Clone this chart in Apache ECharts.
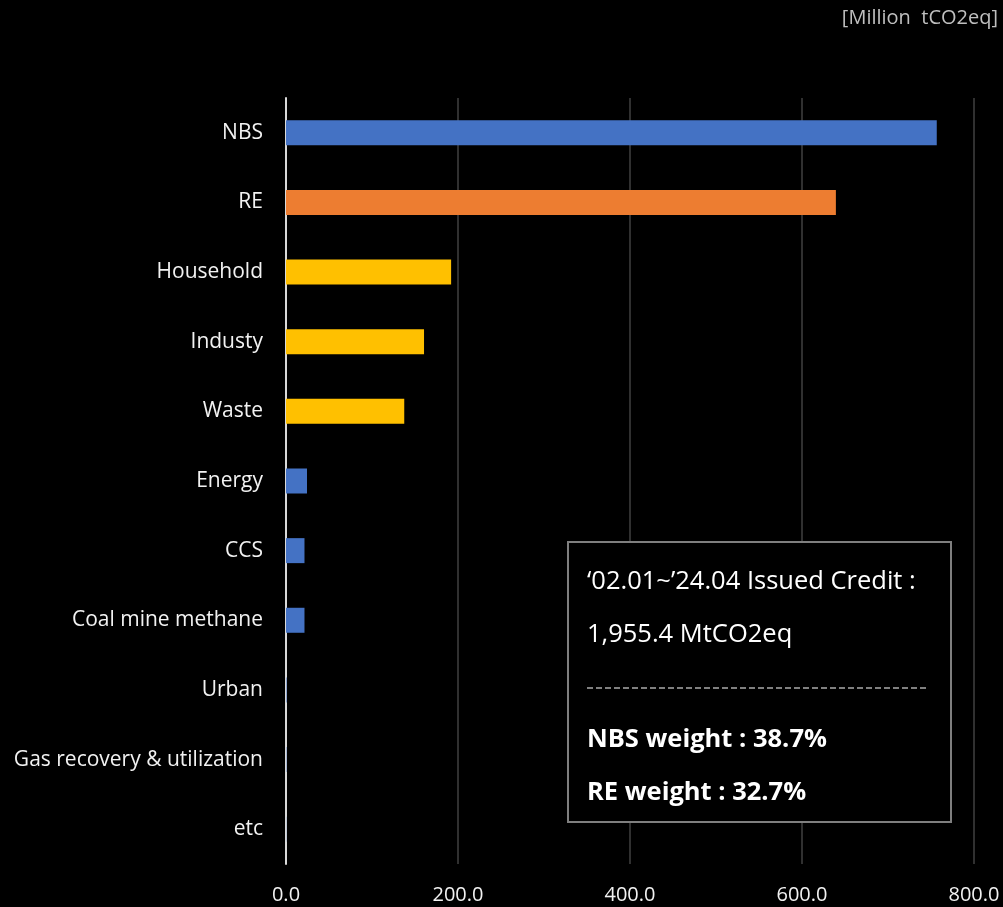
<!DOCTYPE html>
<html>
<head>
<meta charset="utf-8">
<style>
  html, body { margin: 0; padding: 0; background: #000; }
  #chart { width: 1003px; height: 907px; }
</style>
<script src="https://cdn.jsdelivr.net/npm/echarts@6/dist/echarts.min.js"></script>
</head>
<body>
<div id="chart"></div>
<script>
  // categories top to bottom
  var categories = ['NBS', 'RE', 'Household', 'Industy', 'Waste', 'Energy', 'CCS',
    'Coal mine methane', 'Urban', 'Gas recovery & utilization', 'etc'];
  var values = [756.7, 639.4, 192.0, 160.5, 137.5, 24.4, 21.5, 21.5, 0.6, 0.4, 0.2];
  var barColors = ['#4472C4', '#ED7D31', '#FFC000', '#FFC000', '#FFC000',
    '#4472C4', '#4472C4', '#4472C4', '#4472C4', '#4472C4', '#4472C4'];
  var xTicks = [0, 200, 400, 600, 800];

  var font = '"Open Sans", "Noto Sans", sans-serif';
  var myChart = echarts.init(document.getElementById('chart'));

  var barData = values.map(function (v, i) {
    return { value: v, itemStyle: { color: barColors[i] } };
  });

  // info box text
  function boxText(txt, y, bold) {
    return {
      type: 'text', x: 587, y: y, z: 101,
      style: {
        text: txt, fill: '#fff', fontSize: 25.5, fontFamily: font,
        fontWeight: bold ? 'bold' : 'normal', verticalAlign: 'middle'
      }
    };
  }

  myChart.setOption({
    backgroundColor: '#000',
    animation: false,
    grid: { left: 286, right: 29, top: 98, bottom: 43 },
    xAxis: {
      type: 'value',
      min: xTicks[0],
      max: xTicks[xTicks.length - 1],
      interval: 200,
      axisLine: { show: false },
      axisTick: { show: false },
      splitLine: { lineStyle: { color: '#404040', width: 1.5 } },
      axisLabel: {
        color: '#f2f2f2', fontSize: 20, fontFamily: font, margin: 21,
        formatter: function (v) { return v.toFixed(1); }
      }
    },
    yAxis: {
      type: 'category',
      inverse: true,
      data: categories,
      axisLine: { show: true, lineStyle: { color: '#d9d9d9', width: 2 } },
      axisTick: { show: false },
      axisLabel: { color: '#f2f2f2', fontSize: 21, fontFamily: font, margin: 23 }
    },
    series: [{
      type: 'bar',
      data: barData,
      barWidth: 25
    }],
    graphic: [
      {
        type: 'text', x: 998, y: 18, z: 100,
        style: {
          text: '[Million  tCO2eq]', fill: '#bfbfbf', fontSize: 20, fontFamily: font,
          align: 'right', verticalAlign: 'middle'
        }
      },
      {
        type: 'rect', left: 567, top: 541, z: 100,
        shape: { width: 383, height: 280 },
        style: { fill: '#000', stroke: '#7f7f7f', lineWidth: 2 }
      },
      boxText('\u201802.01~\u201924.04 Issued Credit :', 582, false),
      boxText('1,955.4 MtCO2eq', 635, false),
      {
        type: 'line', z: 101,
        shape: { x1: 587, y1: 688, x2: 926, y2: 688 },
        style: { stroke: '#808080', lineWidth: 2, lineDash: [6, 3] }
      },
      boxText('NBS weight : 38.7%', 740, true),
      boxText('RE weight : 32.7%', 793, true)
    ]
  });
</script>
</body>
</html>
